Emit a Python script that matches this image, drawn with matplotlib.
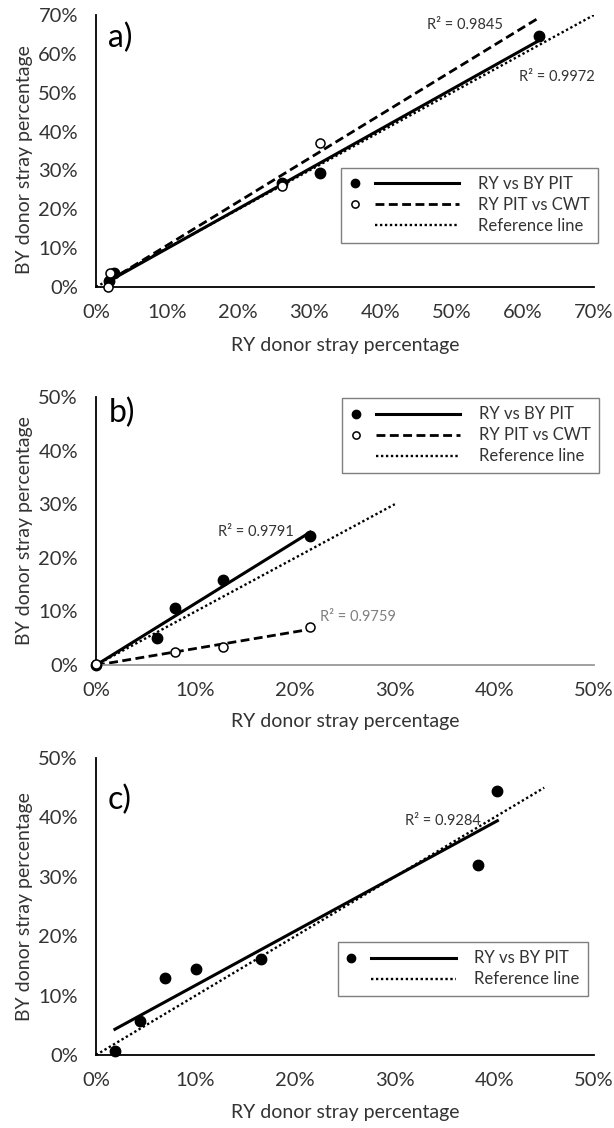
import matplotlib
matplotlib.use("Agg")
import matplotlib.pyplot as plt
import numpy as np
from matplotlib.lines import Line2D
from matplotlib.legend_handler import HandlerBase
from matplotlib.ticker import FuncFormatter, MultipleLocator

plt.rcParams['font.family'] = ['Lato', 'DejaVu Sans']

# ---- panel a) ----
a_pit_x = [1.8, 2.6, 26.1, 31.5, 62.3]
a_pit_y = [1.5, 3.5, 26.7, 29.3, 64.6]
a_cwt_x = [1.7, 1.9, 26.2, 31.5]
a_cwt_y = [0.0, 3.6, 26.1, 37.1]
a_ref = [0, 70]
a_r2_pit = "R² = 0.9972"
a_r2_cwt = "R² = 0.9845"

# ---- panel b) ----
b_pit_x = [0.0, 6.1, 7.9, 12.8, 21.5]
b_pit_y = [0.0, 5.0, 10.6, 15.9, 24.1]
b_cwt_x = [0.0, 7.9, 12.8, 21.5]
b_cwt_y = [0.2, 2.4, 3.4, 7.0]
b_ref = [0, 30]
b_r2_pit = "R² = 0.9791"
b_r2_cwt = "R² = 0.9759"

# ---- panel c) ----
c_pit_x = [1.9, 4.4, 6.9, 10.0, 16.6, 38.4, 40.3]
c_pit_y = [0.7, 5.7, 13.0, 14.5, 16.2, 32.0, 44.4]
c_ref = [0, 45]
c_r2_pit = "R² = 0.9284"

legend_labels = ["RY vs BY PIT", "RY PIT vs CWT", "Reference line"]
x_label = "RY donor stray percentage"
y_label = "BY donor stray percentage"

TXT = '#333333'


class MarkerThenLine(HandlerBase):
    """Legend entry: small marker on the left, then a long line sample."""
    def create_artists(self, legend, orig_handle, xdescent, ydescent,
                       width, height, fontsize, trans):
        mk, ln = orig_handle
        y = height / 2 - ydescent
        x0 = -xdescent
        m = Line2D([x0 + 0.05 * width], [y])
        m.update_from(mk)
        m.set_linestyle('None')
        m.set_markersize(mk.get_markersize() * 0.8)
        l = Line2D([x0 + 0.23 * width, x0 + width], [y, y])
        l.update_from(ln)
        l.set_marker('None')
        for art in (m, l):
            art.set_transform(trans)
        return [m, l]


def fit_line(ax, xs, ys, xspan, **kw):
    k, b = np.polyfit(xs, ys, 1)
    xx = np.array([min(xspan), max(xspan)])
    return ax.plot(xx, k * xx + b, color='black', **kw)[0]


def style_axes(ax, top, step, xaxis_color='black'):
    ax.set_xlim(0, top)
    ax.set_ylim(0, top)
    ax.xaxis.set_major_locator(MultipleLocator(step))
    ax.yaxis.set_major_locator(MultipleLocator(step))
    fmt = FuncFormatter(lambda v, p: f"{v:.0f}%")
    ax.xaxis.set_major_formatter(fmt)
    ax.yaxis.set_major_formatter(fmt)
    for s in ('top', 'right'):
        ax.spines[s].set_visible(False)
    ax.spines['left'].set_color('black')
    ax.spines['left'].set_linewidth(1.3)
    ax.spines['bottom'].set_color(xaxis_color)
    ax.spines['bottom'].set_linewidth(1.3)
    ax.tick_params(axis='both', length=0, labelsize=14.5, labelcolor=TXT)
    ax.tick_params(axis='y', pad=13)
    ax.tick_params(axis='x', pad=12)
    ax.set_xlabel(x_label, fontsize=14, color=TXT, va='top')
    ax.set_ylabel(y_label, fontsize=14, color=TXT)
    ax.patch.set_visible(False)


def filled(ax, x, y):
    return ax.plot(x, y, 'o', ms=7.5, color='black', clip_on=False, zorder=5)[0]


def hollow(ax, x, y):
    return ax.plot(x, y, 'o', ms=6.5, mfc='white', mec='black', mew=1.1,
                   clip_on=False, zorder=6)[0]


def ref_line(ax, r):
    return ax.plot(r, r, color='black', lw=1.7, linestyle=(0, (1, 1.1)))[0]


def add_legend(ax, handles, labels, anchor):
    blank = Line2D([], [], marker='None', linestyle='None')
    hs = [(h[0] if h[0] is not None else blank, h[1]) for h in handles]
    leg = ax.legend(hs, labels, handler_map={tuple: MarkerThenLine()},
                    loc='upper right', bbox_to_anchor=anchor, fontsize=12,
                    handlelength=6.6, handletextpad=1.1, borderpad=0.5,
                    labelspacing=0.3, fancybox=False, framealpha=1,
                    edgecolor='#7f7f7f', labelcolor=TXT, borderaxespad=0)
    leg.get_frame().set_linewidth(1.0)
    return leg


fig = plt.figure(figsize=(6.14, 11.28), dpi=100)
W, H = 614.0, 1128.0
L = 96 / W
AW = 498 / W

# ---------- a) ----------
ax = fig.add_axes([L, (H - 287) / H, AW, 272 / H])
style_axes(ax, 70, 10)
span = a_pit_x + a_cwt_x
ref = ref_line(ax, a_ref)
sl = fit_line(ax, a_pit_x, a_pit_y, span, lw=2.2)
dl = fit_line(ax, a_cwt_x, a_cwt_y, span, lw=2.0, linestyle=(0, (3.2, 1.6)))
fm = filled(ax, a_pit_x, a_pit_y)
hm = hollow(ax, a_cwt_x, a_cwt_y)
ax.text(51.9, 67.4, a_r2_cwt, fontsize=10.5, color=TXT, ha='center', va='center')
ax.text(64.8, 54.1, a_r2_pit, fontsize=10.5, color=TXT, ha='center', va='center')
ax.text(0.048, 0.915, "a)", transform=ax.transAxes, fontsize=23, color='black',
        ha='center', va='center')
add_legend(ax, [(fm, sl), (hm, dl), (None, ref)], legend_labels, (1.008, 0.4375))
ax.yaxis.set_label_coords(-0.127, 0.467)
ax.xaxis.set_label_coords(0.5, -0.185)

# ---------- b) ----------
ax = fig.add_axes([L, (H - 665) / H, AW, 268 / H])
style_axes(ax, 50, 10, xaxis_color='#9a9a9a')
span = b_pit_x + b_cwt_x
ref = ref_line(ax, b_ref)
sl = fit_line(ax, b_pit_x, b_pit_y, span, lw=2.2)
dl = fit_line(ax, b_cwt_x, b_cwt_y, span, lw=2.0, linestyle=(0, (3.2, 1.6)))
fm = filled(ax, b_pit_x, b_pit_y)
hm = hollow(ax, b_cwt_x, b_cwt_y)
ax.text(16.1, 24.8, b_r2_pit, fontsize=10.5, color=TXT, ha='center', va='center')
ax.text(26.3, 9.0, b_r2_cwt, fontsize=10.5, color='#7f7f7f', ha='center', va='center')
ax.text(0.052, 0.94, "b)", transform=ax.transAxes, fontsize=23, color='black',
        ha='center', va='center')
add_legend(ax, [(fm, sl), (hm, dl), (None, ref)], legend_labels, (1.01, 0.996))
ax.yaxis.set_label_coords(-0.127, 0.5)
ax.xaxis.set_label_coords(0.5, -0.18)

# ---------- c) ----------
ax = fig.add_axes([L, (H - 1055) / H, AW, 297 / H])
style_axes(ax, 50, 10)
ref = ref_line(ax, c_ref)
sl = fit_line(ax, c_pit_x, c_pit_y, c_pit_x, lw=2.2)
fm = filled(ax, c_pit_x, c_pit_y)
ax.text(34.8, 39.4, c_r2_pit, fontsize=10.5, color=TXT, ha='center', va='center')
ax.text(0.048, 0.86, "c)", transform=ax.transAxes, fontsize=23, color='black',
        ha='center', va='center')
add_legend(ax, [(fm, sl), (None, ref)], [legend_labels[0], legend_labels[2]],
           (0.988, 0.38))
ax.yaxis.set_label_coords(-0.127, 0.5)
ax.xaxis.set_label_coords(0.5, -0.165)

fig.savefig("out.png", dpi=100, facecolor='white')
